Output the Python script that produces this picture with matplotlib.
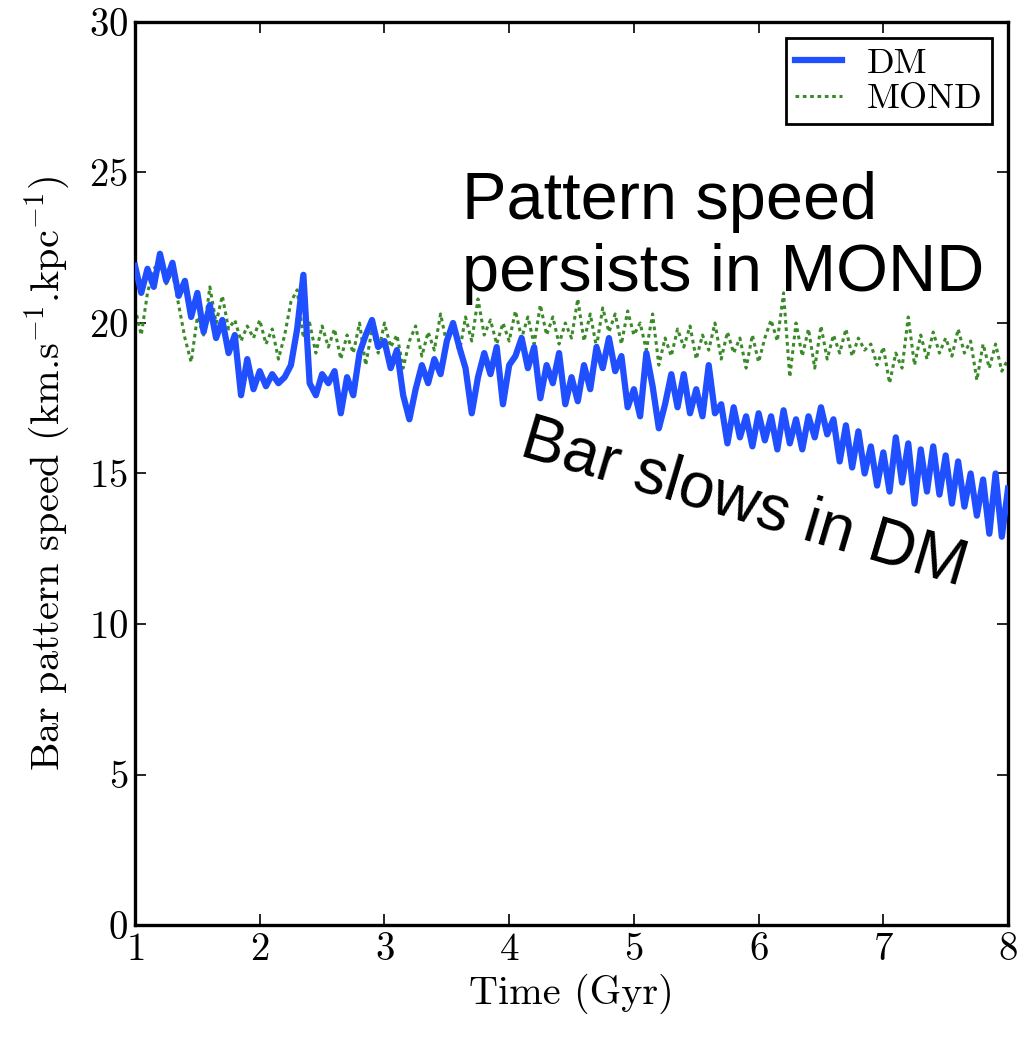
import numpy as np
import matplotlib
matplotlib.use("Agg")
import matplotlib.pyplot as plt

# time grid (Gyr), one sample every 0.05 Gyr from 1 to 8
time = np.linspace(1.0, 8.0, 141)

# bar pattern speed (km/s/kpc)
dm_speed = [
    21.9, 21.0, 21.8, 21.2, 22.3, 21.4, 22.0, 20.9, 21.4, 20.2,
    21.0, 19.7, 20.6, 19.5, 20.1, 19.0, 19.6, 17.6, 18.8, 17.8,
    18.4, 17.9, 18.3, 18.0, 18.2, 18.6, 19.8, 21.6, 18.0, 17.6,
    18.3, 18.0, 18.4, 17.0, 18.2, 17.6, 19.0, 19.6, 20.1, 19.2,
    19.4, 18.5, 19.1, 17.6, 16.8, 17.8, 18.6, 18.0, 18.8, 18.3,
    19.4, 20.0, 19.2, 18.5, 17.0, 18.2, 19.0, 18.3, 19.2, 17.3,
    18.6, 18.9, 19.5, 18.5, 19.2, 17.5, 18.6, 18.0, 19.0, 17.3,
    18.2, 17.4, 18.6, 17.8, 19.2, 18.5, 19.5, 18.4, 18.9, 17.2,
    17.8, 16.9, 19.0, 17.9, 16.5, 17.3, 18.3, 17.2, 18.3, 17.0,
    17.8, 16.9, 18.6, 17.0, 17.3, 16.0, 17.2, 16.2, 16.9, 15.9,
    17.0, 16.1, 16.9, 15.8, 17.1, 16.0, 16.8, 15.8, 16.9, 16.2,
    17.2, 16.3, 16.8, 15.4, 16.6, 15.2, 16.4, 15.0, 15.9, 14.6,
    15.7, 14.4, 16.2, 14.7, 16.0, 14.0, 15.8, 14.4, 15.9, 14.3,
    15.6, 14.0, 15.4, 13.9, 15.0, 13.6, 14.8, 13.0, 15.0, 12.9,
    14.5,
]

mond_speed = [
    20.5, 19.6, 21.0, 21.8, 22.0, 21.3, 21.7, 20.6, 19.5, 18.7,
    20.2, 19.6, 21.2, 20.0, 20.9, 19.8, 20.1, 19.4, 19.9, 19.5,
    20.1, 19.3, 19.8, 18.8, 19.6, 20.7, 21.1, 19.5, 20.0, 19.0,
    19.9, 19.2, 19.8, 18.8, 19.6, 19.0, 20.0, 18.6, 19.8, 19.0,
    20.0, 19.2, 19.6, 18.5, 19.4, 19.9, 18.9, 19.7, 19.1, 20.3,
    19.3, 19.9, 19.0, 20.2, 19.4, 20.8, 19.6, 20.1, 19.3, 20.0,
    19.4, 20.4, 19.5, 20.2, 19.3, 20.6, 19.6, 20.2, 19.3, 20.0,
    19.5, 20.8, 19.4, 20.3, 19.2, 20.5, 19.7, 20.3, 19.3, 20.4,
    19.6, 20.0, 19.1, 20.3, 18.6, 19.5, 18.9, 19.8, 19.2, 19.9,
    18.8, 19.6, 19.1, 20.0, 18.8, 19.7, 19.0, 19.5, 18.5, 19.6,
    18.7, 19.5, 20.1, 19.4, 21.0, 18.2, 20.0, 18.9, 19.8, 18.5,
    19.9, 18.8, 19.6, 19.0, 19.8, 18.9, 19.5, 19.1, 19.3, 18.6,
    19.2, 18.0, 19.0, 18.5, 20.2, 18.6, 19.6, 18.8, 19.7, 19.0,
    19.5, 18.9, 19.8, 19.0, 19.4, 18.1, 19.3, 18.5, 19.3, 18.4,
    18.8,
]

plt.rcParams['font.family'] = ['cmr10', 'DejaVu Serif']
plt.rcParams['mathtext.fontset'] = 'cm'
plt.rcParams['axes.formatter.use_mathtext'] = True

fig = plt.figure(figsize=(10.26, 10.37), dpi=100)
ax = fig.add_axes([0.1316, 0.108, 0.8509, 0.8708])

ax.plot(time, dm_speed, color='#1f4fff', lw=4.5, label='DM', zorder=3)
ax.plot(time, mond_speed, color='#3a8a2a', lw=2.2, ls=(0, (1.2, 1.2)),
        label='MOND', zorder=2)

ax.set_xlim(1, 8)
ax.set_ylim(0, 30)
ax.set_xticks(range(1, 9))
ax.set_yticks(range(0, 31, 5))
ax.tick_params(direction='in', length=8, width=1.2, top=True, right=True,
               labelsize=28, pad=5)
for s in ax.spines.values():
    s.set_linewidth(2.4)

ax.set_xlabel('Time (Gyr)', fontsize=29, labelpad=4)
ax.set_ylabel(r'Bar pattern speed (km.s$^{-1}$.kpc$^{-1}$)', fontsize=29,
              labelpad=12)

leg = ax.legend(loc='upper right', fontsize=26, fancybox=False,
                edgecolor='black', framealpha=1, handlelength=1.3,
                borderaxespad=0.45, borderpad=0.25, labelspacing=0.1,
                handletextpad=0.7)
leg.get_frame().set_linewidth(2.0)

ax.text(3.62, 25.05, 'Pattern speed\npersists in MOND', fontsize=48,
        family='Liberation Sans', ha='left', va='top', linespacing=1.2)
ax.text(5.88, 14.0, 'Bar slows in DM', fontsize=46, family='Liberation Sans',
        ha='center', va='center', rotation=-16.5, rotation_mode='anchor')

fig.savefig('out.png', dpi=100)
